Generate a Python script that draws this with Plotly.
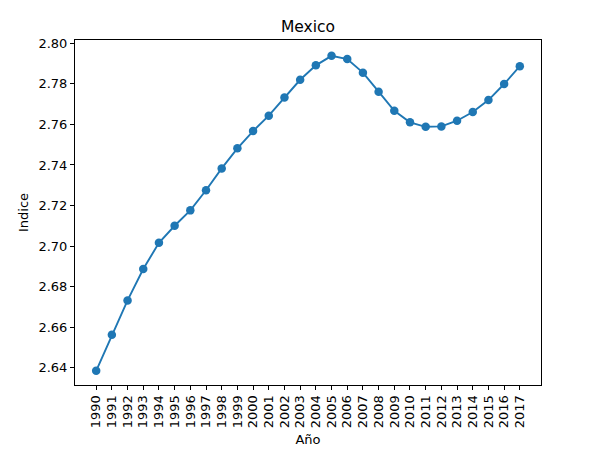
import plotly.graph_objs as go

years = list(range(1990, 2018))
indice = [2.6385, 2.6563, 2.6732, 2.6887, 2.7016, 2.7100, 2.7176, 2.7275,
          2.7383, 2.7482, 2.7567, 2.7643, 2.7733, 2.7820, 2.7891, 2.7938,
          2.7922, 2.7855, 2.7761, 2.7667, 2.7610, 2.7588, 2.7590, 2.7618,
          2.7661, 2.7720, 2.7799, 2.7887]
ytick_vals = [2.64, 2.66, 2.68, 2.70, 2.72, 2.74, 2.76, 2.78, 2.80]

fig = go.Figure()
fig.add_trace(
    go.Scatter(
        x=years, y=indice, mode='lines+markers',
        line=dict(color='#1f77b4', width=1.9),
        marker=dict(color='#1f77b4', size=8.5),
        showlegend=False,
    ))

axis_style = dict(
    showline=True, linecolor='black', linewidth=1, mirror=True,
    ticks='outside', ticklen=4, tickwidth=1, tickcolor='black',
    showgrid=False, zeroline=False,
    tickfont=dict(size=13, color='black'),
    automargin=False,
)

# page body adds an 8px offset, so the figure is a bit smaller
fig.update_layout(
    width=592, height=442,
    margin=dict(l=67, r=59, t=32, b=65),
    plot_bgcolor='white', paper_bgcolor='white',
    font=dict(family='DejaVu Sans', color='black'),
    title=dict(text='Mexico', x=0.5, xref='paper', xanchor='center',
               y=1 - 19 / 442, yref='container', yanchor='middle',
               font=dict(size=15.5, color='black')),
    xaxis=dict(axis_style, range=[1988.65, 2018.35], tickmode='array',
               tickvals=years, ticktext=[str(y) for y in years], tickangle=-90,
               title=dict(text='Año', font=dict(size=13), standoff=7)),
    yaxis=dict(axis_style, range=[2.6315, 2.8016], tickmode='array',
               tickvals=ytick_vals, ticktext=['%.2f' % v for v in ytick_vals],
               title=dict(text='Indice', font=dict(size=13), standoff=6)),
)

fig.write_html("out.html")
